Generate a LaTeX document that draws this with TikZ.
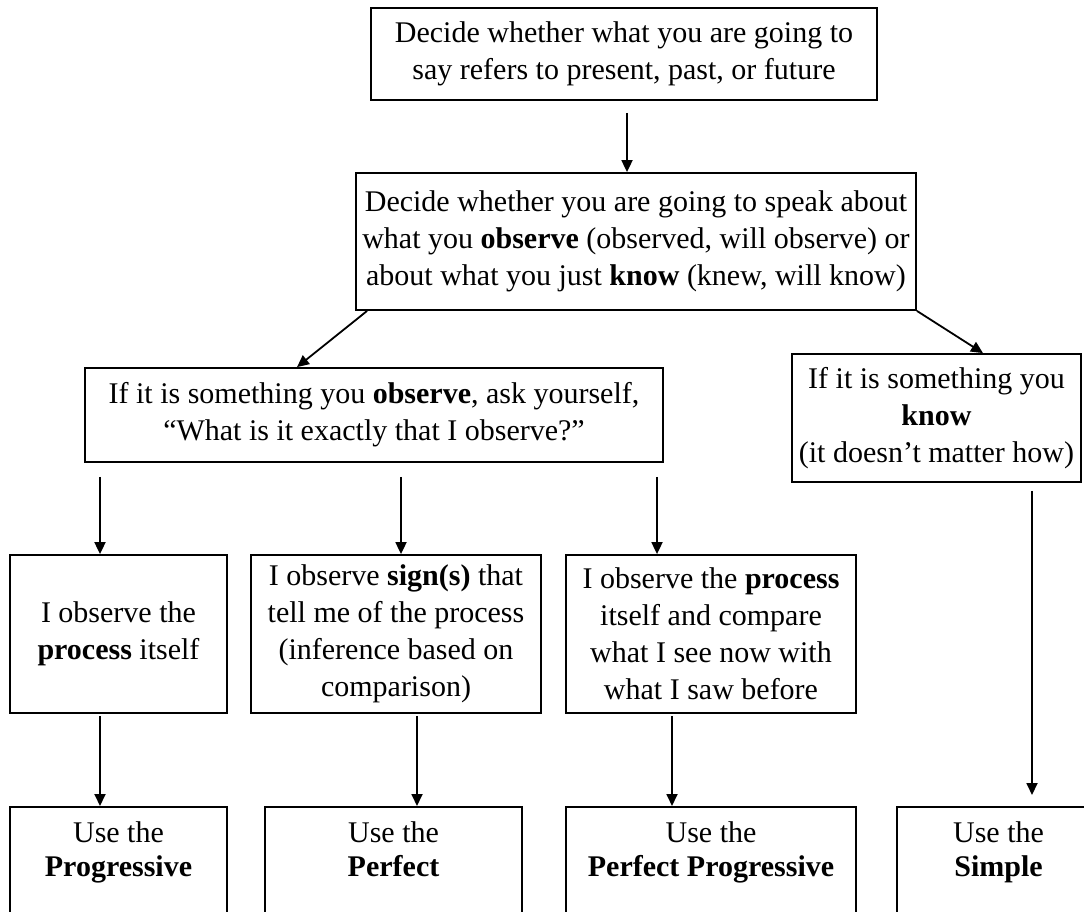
\documentclass[tikz,border=0pt]{standalone}
\usepackage{fontspec}
\setmainfont{Liberation Serif}
\usetikzlibrary{arrows.meta}
\begin{document}
\begin{tikzpicture}[x=1pt,y=-1pt,
  bx/.style={draw=black, line width=1.8pt, inner sep=0pt, align=center,
    font=\fontsize{30}{37}\selectfont},
  bt/.style={inner sep=0pt, align=center, anchor=north, font=\fontsize{30}{34}\selectfont},
  arr/.style={line width=1.8pt, -{Triangle[length=12pt,width=11pt]}}]
\useasboundingbox (0,0) rectangle (1084,911);
\clip (0,0) rectangle (1084,911);
% row 1-2
\node[bx, minimum width=506pt, minimum height=92pt] (n1) at (624,54)
  {Decide whether what you are going to\\say refers to present, past, or future};
\node[bx, minimum width=560pt, minimum height=137pt] (n2) at (636,241.5)
  {Decide whether you are going to speak about\\what you \textbf{observe} (observed, will observe) or\\about what you just \textbf{know} (knew, will know)};
% row 3
\node[bx, minimum width=578pt, minimum height=94pt] (n3) at (374,415)
  {If it is something you \textbf{observe}, ask yourself,\\“What is it exactly that I observe?”};
\node[bx, minimum width=289pt, minimum height=128pt] (n4) at (936.5,418)
  {If it is something you\\\textbf{know}\\(it doesn’t matter how)};
% row 4
\node[bx, minimum width=217pt, minimum height=158pt] (n5) at (118.5,634)
  {I observe the\\\textbf{process} itself};
\node[bx, minimum width=290pt, minimum height=158pt] (n6) at (396,634)
  {I observe \textbf{sign(s)} that\\tell me of the process\\(inference based on\\comparison)};
\node[bx, minimum width=290pt, minimum height=158pt] (n7) at (711,634)
  {I observe the \textbf{process}\\itself and compare\\what I see now with\\what I saw before};
% row 5
\node[bx, minimum width=217pt, minimum height=200pt, anchor=north] (n8) at (118.5,806) {};
\node[bx, minimum width=257pt, minimum height=200pt, anchor=north] (n9) at (393.5,806) {};
\node[bx, minimum width=290pt, minimum height=200pt, anchor=north] (n10) at (711,806) {};
\node[bx, minimum width=203pt, minimum height=200pt, anchor=north] (n11) at (998.5,806) {};
\node[bt] (t8) at (118.5,821) {Use the\\\textbf{Progressive}};
\node[bt] (t9) at (393.5,821) {Use the\\\textbf{Perfect}};
\node[bt] (t10) at (711,821) {Use the\\\textbf{Perfect Progressive}};
\node[bt] (t11) at (998.5,821) {Use the\\\textbf{Simple}};
% connectors
\draw[arr, shorten <=12pt] (627,0 |- n1.south) -- (627,0 |- n2.north);
\draw[arr] ([xshift=12pt]n2.south west) -- (297,0 |- n3.north);
\draw[arr] (n2.south east) -- (983,0 |- n4.north);
\draw[arr, shorten <=14pt] (100,0 |- n3.south) -- (100,0 |- n5.north);
\draw[arr, shorten <=14pt] (401,0 |- n3.south) -- (401,0 |- n6.north);
\draw[arr, shorten <=14pt] (657,0 |- n3.south) -- (657,0 |- n7.north);
\draw[arr, shorten <=2pt] (100,0 |- n5.south) -- (100,0 |- n8.north);
\draw[arr, shorten <=2pt] (417,0 |- n6.south) -- (417,0 |- n9.north);
\draw[arr, shorten <=2pt] (672,0 |- n7.south) -- (672,0 |- n10.north);
\draw[arr, shorten <=8pt, shorten >=11pt] (1032,0 |- n4.south) -- (1032,0 |- n11.north);
\end{tikzpicture}
\end{document}
